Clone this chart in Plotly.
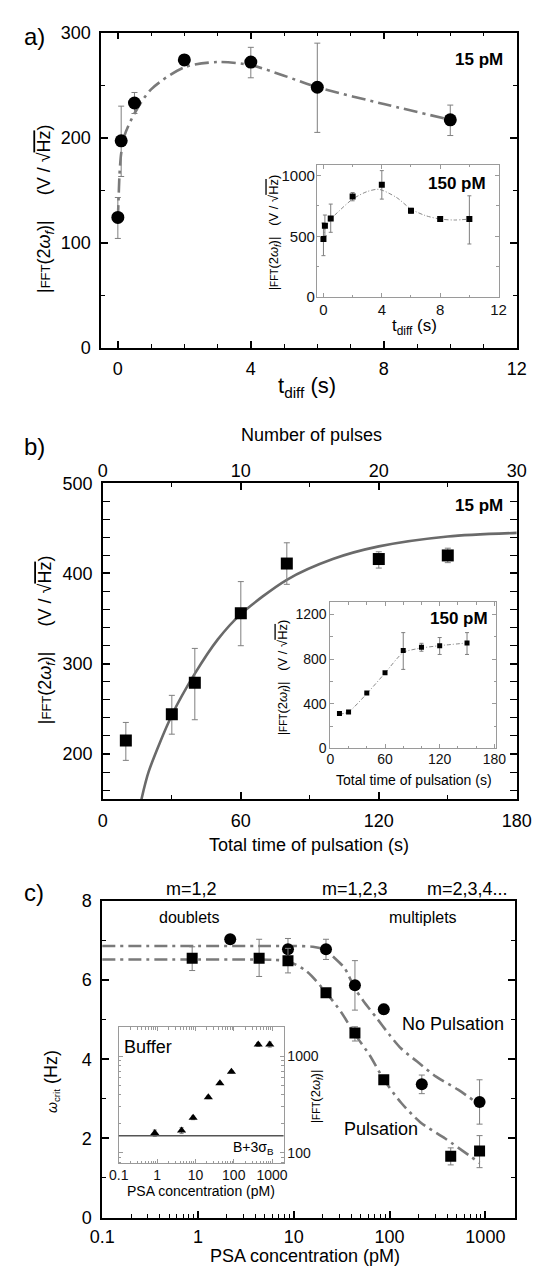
import plotly.graph_objects as go

W, H = 546, 1281
FONT = "Arial, 'Liberation Sans', Helvetica, sans-serif"

# ---------------- Panel a : 15 pM (main) ----------------
A_T = [0, 0.1, 0.5, 2, 4, 6, 10]
A_FFT = [124, 197, 233, 274, 272, 248, 217]
A_ERR_UP = [19, 33, 10, 5, 14, 42, 14]
A_ERR_DN = [20, 34, 10, 4, 15, 43, 15]
A_FIT_T = [0, 0.02, 0.05, 0.1, 0.2, 0.5, 1, 2, 3, 4, 5, 6, 8, 10]
A_FIT_Y = [122, 140, 165, 185, 202, 223, 246, 267, 272, 269, 259, 248, 232, 217]
A_XTICKS = [0, 4, 8, 12]
A_YTICKS = [0, 100, 200, 300]

# ---------------- Panel a inset : 150 pM ----------------
AI_T = [0, 0.1, 0.5, 2, 4, 6, 8, 10]
AI_FFT = [478, 587, 647, 828, 924, 710, 642, 642]
AI_ERR_UP = [132, 88, 118, 32, 116, 20, 8, 191]
AI_ERR_DN = [137, 82, 114, 36, 118, 20, 8, 205]
AI_FIT_T = [0, 0.1, 0.5, 1, 2, 3, 3.8, 5, 6, 7, 8, 9, 10]
AI_FIT_Y = [478, 560, 640, 700, 806, 868, 886, 820, 724, 670, 642, 634, 642]
AI_XTICKS = [0, 4, 8, 12]
AI_YTICKS = [0, 500, 1000]

# ---------------- Panel b : 15 pM (main) ----------------
B_T = [10, 30, 40, 60, 80, 120, 150]
B_FFT = [215, 244, 279, 356, 411, 416, 420]
B_ERR_UP = [20, 21, 38, 35, 23, 8, 8]
B_ERR_DN = [22, 22, 41, 36, 23, 10, 8]
B_FIT_T = [16.8, 20, 30, 40, 50, 60, 80, 100, 120, 150, 180]
B_FIT_Y = [150, 181, 243, 289, 327, 355, 393, 416, 430, 441, 445]
B_XTICKS = [0, 60, 120, 180]
B_YTICKS = [200, 300, 400, 500]
PULSE_TICKS = [0, 10, 20, 30]

# ---------------- Panel b inset : 150 pM ----------------
BI_T = [10, 20, 40, 60, 80, 100, 120, 150]
BI_FFT = [312, 326, 497, 678, 877, 906, 921, 945]
BI_ERR_UP = [8, 6, 6, 6, 161, 36, 73, 93]
BI_ERR_DN = [8, 6, 6, 6, 169, 35, 79, 103]
BI_FIT_T = [10, 20, 40, 60, 80, 100, 120, 150]
BI_FIT_Y = [305, 326, 490, 675, 860, 900, 921, 945]
BI_XTICKS = [0, 60, 120, 180]
BI_YTICKS = [0, 400, 800, 1200]

# ---------------- Panel c : omega_crit vs PSA ----------------
C_NP_X = [2.17, 8.7, 21.7, 43.5, 87, 217, 870]
C_NP_Y = [7.03, 6.78, 6.78, 5.87, 5.26, 3.37, 2.92]
C_NP_UP = [0, 0.27, 0.25, 0.62, 0.13, 0.23, 0.56]
C_NP_DN = [0, 0.25, 0.26, 0.63, 0.12, 0.24, 0.56]
C_P_X = [0.87, 4.35, 8.7, 21.7, 43.5, 87, 435, 870]
C_P_Y = [6.55, 6.55, 6.49, 5.68, 4.66, 3.48, 1.55, 1.68]
C_P_UP = [0.29, 0.48, 0.31, 0, 0.16, 0, 0.21, 0.39]
C_P_DN = [0.31, 0.46, 0.31, 0, 0.2, 0, 0.22, 0.42]
C_NP_FIT_X = [0.1, 1, 5, 10, 15.8, 21.7, 25, 33.9, 43.2, 53.3, 72.3, 98, 132, 194, 306, 519, 870]
C_NP_FIT_Y = [6.86, 6.86, 6.86, 6.86, 6.84, 6.76, 6.62, 6.30, 5.8, 5.47, 5.06, 4.64, 4.27, 3.94, 3.56, 3.23, 2.85]
C_P_FIT_X = [0.1, 1, 3, 6, 8.8, 13.6, 21.8, 31.4, 43.2, 62, 87.5, 132, 209, 384, 870]
C_P_FIT_Y = [6.52, 6.52, 6.52, 6.51, 6.47, 6.22, 5.68, 5.18, 4.64, 4.1, 3.48, 2.9, 2.41, 1.99, 1.38]
C_XTICKS = [0.1, 1, 10, 100, 1000]
C_XTICKTEXT = ["0.1", "1", "10", "100", "1000"]
C_YTICKS = [0, 2, 4, 6, 8]

# ---------------- Panel c inset : Buffer ----------------
CI_X = [0.87, 4.35, 8.7, 21.7, 43.5, 87, 435, 870]
CI_FFT = [160, 170, 230, 375, 525, 690, 1320, 1320]
CI_ERR = [12, 12, 10, 12, 15, 20, 60, 80]
CI_THRESHOLD = 150
CI_YTICKS = [100, 1000]

LOG_MINOR = [m * 10 ** e for e in range(-1, 4) for m in range(2, 10)]


def px(x):
    return x / W


def py(y):
    return 1 - y / H


ERR_COL = "#7f7f7f"


def err(up, dn, width=3):
    return dict(type="data", symmetric=False, array=up, arrayminus=dn,
                color=ERR_COL, thickness=1, width=width)


fig = go.Figure()

# ---- panel a main ----
fig.add_trace(go.Scatter(x=A_FIT_T, y=A_FIT_Y, mode="lines", xaxis="x", yaxis="y",
                         line=dict(color="#7a7a7a", width=2.6, dash="14px,5px,3px,5px",
                                   shape="spline", smoothing=0.8)))
fig.add_trace(go.Scatter(x=A_T, y=A_FFT, mode="markers", xaxis="x", yaxis="y",
                         marker=dict(symbol="circle", size=13, color="black"),
                         error_y=err(A_ERR_UP, A_ERR_DN)))
# ---- panel a inset ----
fig.add_trace(go.Scatter(x=AI_FIT_T, y=AI_FIT_Y, mode="lines", xaxis="x2", yaxis="y2",
                         line=dict(color="#8a8a8a", width=1, dash="4px,2px,1px,2px",
                                   shape="spline", smoothing=0.8)))
fig.add_trace(go.Scatter(x=AI_T, y=AI_FFT, mode="markers", xaxis="x2", yaxis="y2",
                         marker=dict(symbol="square", size=6, color="black"),
                         error_y=err(AI_ERR_UP, AI_ERR_DN, 2)))
# ---- panel b main ----
fig.add_trace(go.Scatter(x=B_FIT_T, y=B_FIT_Y, mode="lines", xaxis="x3", yaxis="y3",
                         line=dict(color="#6a6a6a", width=2.6, shape="spline", smoothing=0.8)))
fig.add_trace(go.Scatter(x=B_T, y=B_FFT, mode="markers", xaxis="x3", yaxis="y3",
                         marker=dict(symbol="square", size=12, color="black"),
                         error_y=err(B_ERR_UP, B_ERR_DN)))
fig.add_trace(go.Scatter(x=PULSE_TICKS, y=[None] * len(PULSE_TICKS), mode="markers",
                         xaxis="x4", yaxis="y3", marker=dict(size=0, opacity=0),
                         hoverinfo="skip"))
# ---- panel b inset ----
fig.add_trace(go.Scatter(x=BI_FIT_T, y=BI_FIT_Y, mode="lines", xaxis="x5", yaxis="y5",
                         line=dict(color="#8a8a8a", width=1, dash="4px,2px,1px,2px",
                                   shape="spline", smoothing=0.6)))
fig.add_trace(go.Scatter(x=BI_T, y=BI_FFT, mode="markers", xaxis="x5", yaxis="y5",
                         marker=dict(symbol="square", size=5, color="black"),
                         error_y=err(BI_ERR_UP, BI_ERR_DN, 2)))
# ---- panel c main ----
fig.add_trace(go.Scatter(x=C_NP_FIT_X, y=C_NP_FIT_Y, mode="lines", xaxis="x6", yaxis="y6",
                         line=dict(color="#7a7a7a", width=2.6, dash="13px,5px,3px,5px",
                                   shape="spline", smoothing=0.8)))
fig.add_trace(go.Scatter(x=C_P_FIT_X, y=C_P_FIT_Y, mode="lines", xaxis="x6", yaxis="y6",
                         line=dict(color="#7a7a7a", width=2.6, dash="13px,5px,3px,5px",
                                   shape="spline", smoothing=0.8)))
fig.add_trace(go.Scatter(x=C_NP_X, y=C_NP_Y, mode="markers", xaxis="x6", yaxis="y6",
                         marker=dict(symbol="circle", size=12, color="black"),
                         error_y=err(C_NP_UP, C_NP_DN)))
fig.add_trace(go.Scatter(x=C_P_X, y=C_P_Y, mode="markers", xaxis="x6", yaxis="y6",
                         marker=dict(symbol="square", size=11, color="black"),
                         error_y=err(C_P_UP, C_P_DN)))
# ---- panel c inset ----
fig.add_trace(go.Scatter(x=CI_X, y=CI_FFT, mode="markers", xaxis="x7", yaxis="y7",
                         marker=dict(symbol="triangle-up", size=8, color="black"),
                         error_y=dict(type="data", array=CI_ERR, color=ERR_COL,
                                      thickness=1, width=2)))

fig.update_traces(showlegend=False)


def main_axis(**kw):
    d = dict(showline=True, linecolor="black", linewidth=1.5, mirror="allticks",
             ticks="inside", ticklen=7, tickwidth=1.5, tickcolor="black",
             showgrid=False, zeroline=False, fixedrange=True,
             tickfont=dict(size=18, color="black", family=FONT))
    d.update(kw)
    return d


def inset_axis(size=14, **kw):
    d = dict(showline=True, linecolor="#9a9a9a", linewidth=1, mirror="allticks",
             ticks="inside", ticklen=4, tickwidth=1, tickcolor="#9a9a9a",
             showgrid=False, zeroline=False, fixedrange=True,
             tickfont=dict(size=size, color="#111", family=FONT))
    d.update(kw)
    return d


MINOR_MAIN = dict(ticks="inside", ticklen=4, tickwidth=1.2, tickcolor="black")
MINOR_INS = dict(ticks="inside", ticklen=2.5, tickwidth=1, tickcolor="#9a9a9a")

fig.update_layout(
    width=W, height=H, margin=dict(l=0, r=0, t=0, b=0),
    paper_bgcolor="white", plot_bgcolor="rgba(0,0,0,0)",
    font=dict(family=FONT, color="black"),
    showlegend=False,
    # panel a
    xaxis=main_axis(domain=[px(93), px(531)], anchor="y", range=[-0.5, 12],
                    tickmode="array", tickvals=A_XTICKS, ticklabelstandoff=4,
                    minor=dict(dtick=1, tick0=0, **MINOR_MAIN)),
    yaxis=main_axis(domain=[py(343), py(23)], anchor="x", range=[0, 300],
                    tickmode="array", tickvals=A_YTICKS, ticklabelstandoff=5,
                    minor=dict(dtick=50, tick0=0, **MINOR_MAIN)),
    xaxis2=inset_axis(15, domain=[px(320.3), px(511.8)], anchor="y2", range=[-0.45, 12],
                      tickmode="array", tickvals=AI_XTICKS, ticklabelstandoff=-1,
                      minor=dict(dtick=2, tick0=0, **MINOR_INS)),
    yaxis2=inset_axis(15, domain=[py(291.7), py(157)], anchor="x2", range=[0, 1090],
                      tickmode="array", tickvals=AI_YTICKS, ticklabelstandoff=-2,
                      minor=dict(dtick=250, tick0=0, **MINOR_INS)),
    # panel b
    xaxis3=main_axis(domain=[px(94.7), px(531)], anchor="y3", range=[0, 180],
                     mirror=True, tickmode="array", tickvals=B_XTICKS, ticklabelstandoff=4,
                     minor=dict(dtick=30, tick0=0, **MINOR_MAIN)),
    yaxis3=main_axis(domain=[py(801.7), py(480.7)], anchor="x3", range=[150, 500],
                     tickmode="array", tickvals=B_YTICKS, ticklabelstandoff=5,
                     minor=dict(dtick=20, tick0=0, **MINOR_MAIN)),
    xaxis4=main_axis(overlaying="x3", anchor="y3", side="top", range=[0, 30],
                     mirror=False, tickmode="array", tickvals=PULSE_TICKS,
                     ticklabelstandoff=-3,
                     minor=dict(dtick=5, tick0=0, **MINOR_MAIN)),
    xaxis5=inset_axis(14, domain=[px(334.5), px(509.3)], anchor="y5", range=[0, 182],
                      tickmode="array", tickvals=BI_XTICKS, ticklabelstandoff=-2,
                      minor=dict(dtick=20, tick0=0, **MINOR_INS)),
    yaxis5=inset_axis(14, domain=[py(750), py(601.7)], anchor="x5", range=[0, 1310],
                      tickmode="array", tickvals=BI_YTICKS,
                      minor=dict(dtick=200, tick0=0, **MINOR_INS)),
    # panel c
    xaxis6=main_axis(domain=[px(94), px(529.2)], anchor="y6", type="log", range=[-1, 3.31],
                     mirror=True, tickmode="array", tickvals=C_XTICKS, ticktext=C_XTICKTEXT,
                     ticklabelstandoff=2,
                     minor=dict(tickmode="array", tickvals=LOG_MINOR, **MINOR_MAIN)),
    yaxis6=main_axis(domain=[py(1226.7), py(905)], anchor="x6", range=[0, 8],
                     tickmode="array", tickvals=C_YTICKS, ticklabelstandoff=5,
                     minor=dict(dtick=1, tick0=0, **MINOR_MAIN)),
    xaxis7=inset_axis(14, domain=[px(111.5), px(285.2)], anchor="y7", type="log",
                      range=[-1, 3.3], tickmode="array", tickvals=C_XTICKS,
                      ticktext=C_XTICKTEXT, ticklabelstandoff=-1,
                      minor=dict(tickmode="array", tickvals=LOG_MINOR, **MINOR_INS)),
    yaxis7=inset_axis(14, domain=[py(1171.7), py(1033.3)], anchor="x7", type="log",
                      range=[1.89, 3.3], side="right", tickmode="array",
                      tickvals=CI_YTICKS, ticktext=[str(v) for v in CI_YTICKS],
                      minor=dict(tickmode="array", tickvals=LOG_MINOR + [2000, 3000], **MINOR_INS)),
)

# threshold line B + 3 sigma_B across the inset
fig.add_shape(type="line", xref="x7 domain", x0=0, x1=1, yref="y7",
              y0=CI_THRESHOLD, y1=CI_THRESHOLD, line=dict(color="#555", width=1.5))

SQ = "√<span style='text-decoration:overline'>Hz</span>"
FFT_LBL = "|<span style='font-size:{s}px'>FFT</span>(2<i>ω</i><sub><i>f</i></sub>)|"


def ann(text, x, y, size=18, bold=False, angle=0, color="black"):
    if bold:
        text = "<b>" + text + "</b>"
    fig.add_annotation(text=text, x=px(x), y=py(y), xref="paper", yref="paper",
                       showarrow=False, xanchor="center", yanchor="middle",
                       textangle=angle, font=dict(size=size, color=color, family=FONT))


# panel a texts
ann("a)", 22.6, 27, 24)
ann("15 pM", 491, 50, 17, bold=True)
ann("150 pM", 468, 176, 17, bold=True)
ann(FFT_LBL.format(s=13) + "     (V / " + SQ + ")", 35, 202, 18, angle=-90)
ann("t<sub>diff</sub> (s)", 310, 383, 22)
ann("t<sub>diff</sub> (s)", 423, 322, 17)
ann(FFT_LBL.format(s=10) + "   (V / " + SQ + ")", 276, 226, 13, angle=-90)

# panel b texts
ann("b)", 22.6, 443, 24)
ann("Number of pulses", 315, 432, 18)
ann("15 pM", 491, 503, 17, bold=True)
ann(FFT_LBL.format(s=13) + "     (V / " + SQ + ")", 35, 640, 18, angle=-90)
ann("Total time of pulsation (s)", 311.6, 848, 18)
ann("150 pM", 470, 618, 17, bold=True)
ann(FFT_LBL.format(s=10) + "   (V / " + SQ + ")", 285.5, 678, 13, angle=-90)
ann("Total time of pulsation (s)", 422.4, 782, 14)

# panel c texts
ann("c)", 22.6, 896, 24)
ann("m=1,2", 188, 893, 18)
ann("m=1,2,3", 360.4, 893, 18)
ann("m=2,3,4...", 478.8, 893, 18)
ann("doublets", 185.6, 922, 16)
ann("multiplets", 431.8, 922, 16)
ann("No Pulsation", 464, 1030, 18)
ann("Pulsation", 387.5, 1137, 18)
ann("<span style='font-size:14px'><i>ω</i><sub>crit</sub></span> (Hz)", 40, 1088, 18, angle=-90)
ann("PSA concentration (pM)", 308, 1266, 18)
ann("Buffer", 142.8, 1053, 18)
ann("B+3σ<sub>B</sub>", 253.3, 1156, 14)
ann(FFT_LBL.format(s=10), 320, 1104, 13, angle=-90)
ann("PSA concentration (pM)", 198.3, 1200, 14)

fig.write_html("out.html", config={"displayModeBar": False},
               post_script="document.body.style.margin='0px';")
